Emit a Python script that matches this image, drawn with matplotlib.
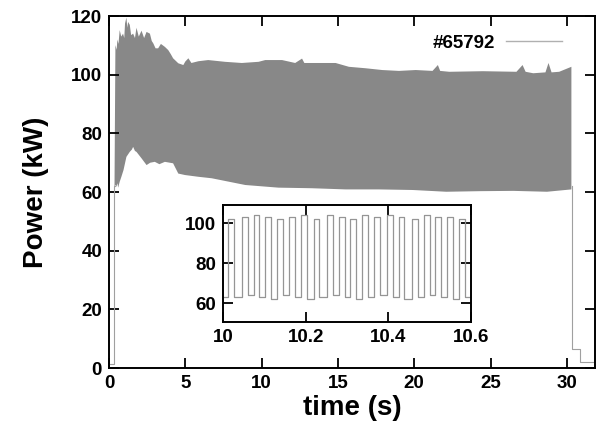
import numpy as np
import matplotlib as mpl
mpl.use('Agg')
import matplotlib.pyplot as plt

mpl.rcParams['font.family'] = ['Liberation Sans', 'DejaVu Sans']
mpl.rcParams['font.weight'] = 'bold'

# Upper envelope of the RF power trace (time s, kW)
up_t = [0.36, 0.42, 0.50, 0.55, 0.62, 0.70, 0.80, 0.92, 1.00, 1.05, 1.14, 1.20, 1.25, 1.36,
        1.45, 1.58, 1.70, 1.80, 1.95, 2.13, 2.30, 2.46, 2.68, 2.80, 2.90, 3.05, 3.22, 3.40,
        3.66, 3.88, 4.05, 4.20, 4.54, 4.87, 5.00, 5.20, 5.40, 5.86, 6.50, 7.60, 8.70, 9.80,
        10.24, 11.34, 12.20, 12.65, 12.80, 13.53, 14.85, 15.72, 16.82, 17.90, 19.00, 20.10,
        21.20, 21.55, 21.70, 22.30, 24.50, 26.70, 27.10, 27.30, 27.80, 28.60, 28.80, 29.00,
        29.50, 30.30]
up_p = [62.0, 110.1, 108.5, 112.0, 110.5, 115.2, 113.0, 114.0, 112.5, 117.5, 119.5, 116.0, 118.0, 117.0,
        113.5, 114.0, 112.5, 116.0, 113.0, 115.0, 112.5, 114.6, 114.0, 111.5, 110.7, 109.0, 109.0, 110.5,
        109.5, 108.4, 107.0, 105.6, 103.9, 103.3, 104.5, 105.6, 104.0, 104.6, 105.0, 104.4, 104.0, 104.4,
        105.0, 105.0, 104.0, 105.5, 104.0, 104.0, 104.0, 102.7, 102.2, 101.6, 101.3, 101.6,
        101.3, 103.3, 101.3, 101.0, 101.2, 101.0, 103.3, 101.0, 100.5, 100.8, 104.0, 100.8,
        101.0, 102.7]

# Lower envelope
lo_t = [0.36, 0.40, 0.48, 0.55, 0.60, 0.70, 0.81, 0.95, 1.14, 1.36, 1.50, 1.58, 1.70, 1.80,
        2.13, 2.46, 2.70, 3.00, 3.30, 3.66, 4.20, 4.54, 4.98, 5.86, 6.73, 8.93, 11.10, 13.30,
        15.50, 17.70, 19.90, 22.10, 24.30, 26.50, 28.70, 30.30]
lo_p = [60.0, 62.5, 61.8, 63.0, 61.5, 63.5, 65.2, 67.5, 72.0, 73.7, 74.5, 75.4, 74.0, 73.7,
        71.5, 69.2, 70.0, 70.3, 69.5, 70.3, 69.8, 66.3, 65.8, 65.2, 64.7, 62.4, 61.5, 61.3,
        60.9, 60.9, 60.7, 60.1, 60.3, 60.4, 60.1, 60.9]

# Before and after the pulse
pre_t = [0.0, 0.30, 0.30, 0.36]
pre_p = [1.5, 1.5, 62.0, 62.0]
post_t = [30.32, 30.32, 30.85, 30.85, 31.70]
post_p = [62.0, 6.5, 6.5, 2.0, 2.0]

# Inset: modulation edges between 10 and 10.6 s
rise_t = [10.013, 10.046, 10.074, 10.102, 10.130, 10.159, 10.189, 10.219, 10.252, 10.280,
          10.308, 10.337, 10.365, 10.397, 10.425, 10.458, 10.486, 10.514, 10.543, 10.571]
fall_t = [10.027, 10.060, 10.088, 10.116, 10.144, 10.173, 10.203, 10.233, 10.266, 10.294,
          10.322, 10.351, 10.379, 10.411, 10.439, 10.472, 10.500, 10.528, 10.557, 10.585]
hi_p = [102, 103, 104, 103, 102, 103, 104, 102, 104, 103,
        102, 104, 103, 104, 103, 102, 104, 103, 103, 102]
lo_lvl = [63, 64, 63, 62, 64, 63, 62, 63, 64, 63,
          62, 63, 64, 63, 62, 63, 64, 63, 62, 63]

shot = '#65792'

fig = plt.figure(figsize=(5.99, 4.34), dpi=100)
ax = fig.add_axes([0.182, 0.152, 0.8114, 0.811])

gray = '#888888'
env_x = np.concatenate([up_t, lo_t[::-1]])
env_y = np.concatenate([up_p, lo_p[::-1]])
ax.fill(env_x, env_y, color=gray, lw=0)
ax.plot(pre_t, pre_p, color='#a0a0a0', lw=0.8)
ax.plot(post_t, post_p, color='#a0a0a0', lw=0.8)
ax.plot([], [], color='#b0b0b0', lw=1.0, label=shot)

ax.set_xlim(0, 31.85)
ax.set_ylim(0, 120)
ax.set_xticks(np.arange(0, 31, 5))
ax.set_yticks(np.arange(0, 121, 20))
ax.tick_params(direction='in', length=7, width=1.3, top=True, right=True,
               labelsize=13.5, pad=5)
for s in ax.spines.values():
    s.set_linewidth(1.4)
ax.set_xlabel('time (s)', fontsize=20, fontweight='bold', labelpad=2)
ax.set_ylabel('Power (kW)', fontsize=20, fontweight='bold', labelpad=16)

leg = ax.legend(loc='upper right', frameon=False, markerfirst=False,
                fontsize=13.5, handlelength=3.0, handletextpad=0.6,
                bbox_to_anchor=(0.96, 0.985), borderaxespad=0.3)

# Inset
axi = fig.add_axes([0.3723, 0.258, 0.414, 0.2696])
wx = [10.0]
wy = [lo_lvl[0]]
for r, f, h, l in zip(rise_t, fall_t, hi_p, lo_lvl):
    wx += [r, f]
    wy += [h, l]
wx.append(10.6)
wy.append(wy[-1])
axi.step(wx, wy, where='post', color='#959595', lw=0.9)
axi.set_xlim(10, 10.6)
axi.set_ylim(50.5, 109)
axi.set_xticks([10, 10.2, 10.4, 10.6])
axi.set_xticklabels(['10', '10.2', '10.4', '10.6'])
axi.set_yticks([60, 80, 100])
axi.tick_params(direction='in', length=7, width=1.3, top=True, right=True,
                labelsize=13.5, pad=5)
for s in axi.spines.values():
    s.set_linewidth(1.4)

fig.savefig('out.png', dpi=100)
